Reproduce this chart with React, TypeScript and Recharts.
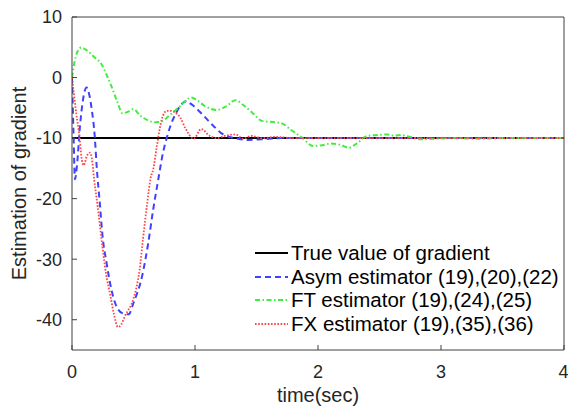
import React from 'react';
import { LineChart, Line, XAxis, YAxis, Legend } from 'recharts';

const FONT = '"Liberation Sans", Arial, Helvetica, sans-serif';

// tick labels
const xTicks = [0, 1, 2, 3, 4];
const yTicks = [-40, -30, -20, -10, 0, 10];

// True value of gradient
const trueT = [0, 4];
const trueV = [-10, -10];

// Asym estimator (19),(20),(22)
const asymT = [0, 0.012, 0.024, 0.04, 0.065, 0.09, 0.118, 0.14, 0.16, 0.186, 0.2, 0.225, 0.25, 0.28, 0.32, 0.375, 0.42, 0.46, 0.5, 0.57, 0.62, 0.66, 0.7, 0.74, 0.77, 0.8, 0.84, 0.89, 0.93, 0.97, 1.07, 1.15, 1.23, 1.35, 1.43, 1.54, 1.7, 4];
const asymV = [0, -9, -16.8, -14.6, -8, -3.6, -1.65, -2.8, -5.2, -10, -14.5, -20.5, -26.5, -30.5, -35, -38.3, -39, -39.1, -37.2, -32.8, -27.3, -21.8, -17, -12.4, -10, -8, -6.1, -4.4, -3.9, -4.4, -6.3, -8, -9.4, -10.1, -10.3, -10.2, -10, -10];

// FT estimator (19),(24),(25)
const ftT = [0, 0.02, 0.045, 0.076, 0.12, 0.18, 0.24, 0.28, 0.32, 0.37, 0.41, 0.45, 0.5, 0.55, 0.62, 0.67, 0.72, 0.79, 0.88, 0.97, 1.02, 1.08, 1.18, 1.25, 1.33, 1.39, 1.45, 1.55, 1.66, 1.72, 1.77, 1.87, 1.96, 2.03, 2.1, 2.18, 2.25, 2.32, 2.4, 2.48, 2.56, 2.62, 2.68, 2.75, 2.83, 2.94, 3.1, 3.3, 3.5, 4];
const ftV = [0, 2.5, 4.3, 4.96, 4.5, 3.4, 2.2, 0.5, -1.4, -4.1, -5.9, -5.7, -5.2, -6.2, -7.1, -7.4, -7.3, -6.3, -4.7, -3.3, -3.8, -4.7, -5.35, -4.8, -3.75, -4.5, -5.5, -7.2, -7.4, -7.7, -8.5, -9.9, -11.3, -11.2, -10.9, -11.1, -11.6, -10.8, -9.65, -9.5, -9.4, -9.6, -9.5, -9.8, -10.2, -10.1, -10, -10.1, -10, -10];

// FX estimator (19),(35),(36)
const fxT = [0, 0.035, 0.063, 0.076, 0.095, 0.12, 0.145, 0.16, 0.18, 0.21, 0.24, 0.28, 0.31, 0.34, 0.374, 0.4, 0.43, 0.5, 0.52, 0.55, 0.577, 0.61, 0.64, 0.66, 0.69, 0.73, 0.77, 0.8, 0.84, 0.88, 0.92, 0.99, 1.05, 1.12, 1.18, 1.24, 1.33, 1.39, 1.46, 1.55, 1.65, 1.8, 4];
const fxV = [0, -6, -10.2, -13, -14.5, -13, -12.4, -13.2, -16.8, -21.5, -26.7, -32.8, -35.8, -39, -41.2, -40.8, -39.4, -36.5, -35, -31.7, -26.7, -21, -16.5, -15.2, -11.3, -6.9, -5.5, -5.5, -5.8, -6.6, -8.3, -10.1, -8.5, -9.65, -10, -9.65, -9.4, -10.1, -9.65, -10, -9.8, -10, -10];

const toPoints = (ts: number[], vs: number[]) => ts.map((t, i) => ({ t, v: vs[i] }));

const series = [
  { name: 'True value of gradient', data: toPoints(trueT, trueV), color: '#000000', dash: undefined as string | undefined, width: 2 },
  { name: 'Asym estimator (19),(20),(22)', data: toPoints(asymT, asymV), color: '#4040ff', dash: '6 4', width: 2 },
  { name: 'FT estimator (19),(24),(25)', data: toPoints(ftT, ftV), color: '#40ee40', dash: '5 2.5 1.5 2.5', width: 2 },
  { name: 'FX estimator (19),(35),(36)', data: toPoints(fxT, fxV), color: '#ff4545', dash: '1.6 1.6', width: 1.8 },
];

const AXIS = '#404040';
const TEXT = '#262626';

const renderLegend = () => (
  <div style={{ fontFamily: FONT, fontSize: 20.5, color: '#000', lineHeight: '23.7px' }}>
    {series.map((s) => (
      <div key={s.name} style={{ display: 'flex', alignItems: 'center', height: 23.7, whiteSpace: 'nowrap' }}>
        <svg width={37} height={10} style={{ flex: 'none' }}>
          <line x1={1} y1={5} x2={34} y2={5} stroke={s.color} strokeWidth={s.width} strokeDasharray={s.dash} />
        </svg>
        <span>{s.name}</span>
      </div>
    ))}
  </div>
);

const YLabel = (props: any) => {
  const vb = props.viewBox || {};
  const x = vb.x + 14;
  const y = vb.y + vb.height / 2;
  return (
    <text transform={`translate(${x},${y}) rotate(-90)`} textAnchor="middle" fill={TEXT} fontSize={20} fontFamily={FONT}>
      Estimation of gradient
    </text>
  );
};

const XLabel = (props: any) => {
  const vb = props.viewBox || {};
  return (
    <text x={vb.x + vb.width / 2} y={vb.y + 52} textAnchor="middle" fill={TEXT} fontSize={20} fontFamily={FONT}>
      time(sec)
    </text>
  );
};

export default function App() {
  const tickStyle = { fill: TEXT, fontSize: 18, fontFamily: FONT };
  return (
    <div style={{ position: 'absolute', left: 0, top: 0, background: '#fff' }}>
      <LineChart width={568} height={407} margin={{ top: 16, right: 3, bottom: 27, left: 12 }}>
        <XAxis
          xAxisId={0}
          type="number"
          dataKey="t"
          domain={[0, 4]}
          ticks={xTicks}
          allowDataOverflow
          height={30}
          stroke={AXIS}
          tickSize={-5}
          tickMargin={20}
          tick={tickStyle}
          label={<XLabel />}
        />
        <XAxis
          xAxisId="top"
          orientation="top"
          type="number"
          dataKey="t"
          domain={[0, 4]}
          ticks={xTicks}
          allowDataOverflow
          height={1}
          stroke={AXIS}
          tickSize={-5}
          tick={false}
        />
        <YAxis
          yAxisId={0}
          type="number"
          domain={[-45, 10]}
          ticks={yTicks}
          allowDataOverflow
          width={60}
          stroke={AXIS}
          tickSize={-5}
          tickMargin={15}
          tick={tickStyle}
          label={<YLabel />}
        />
        <YAxis
          yAxisId="right"
          orientation="right"
          type="number"
          domain={[-45, 10]}
          ticks={yTicks}
          allowDataOverflow
          width={1}
          stroke={AXIS}
          tickSize={-5}
          tick={false}
        />
        <Legend
          layout="vertical"
          align="center"
          verticalAlign="middle"
          content={renderLegend}
          wrapperStyle={{ left: 254, top: 241, width: 320 }}
        />
        {series.map((s) => (
          <Line
            key={s.name}
            xAxisId={0}
            yAxisId={0}
            data={s.data}
            dataKey="v"
            name={s.name}
            type="monotone"
            stroke={s.color}
            strokeWidth={s.width}
            strokeDasharray={s.dash}
            dot={false}
            activeDot={false}
            isAnimationActive={false}
          />
        ))}
      </LineChart>
    </div>
  );
}
